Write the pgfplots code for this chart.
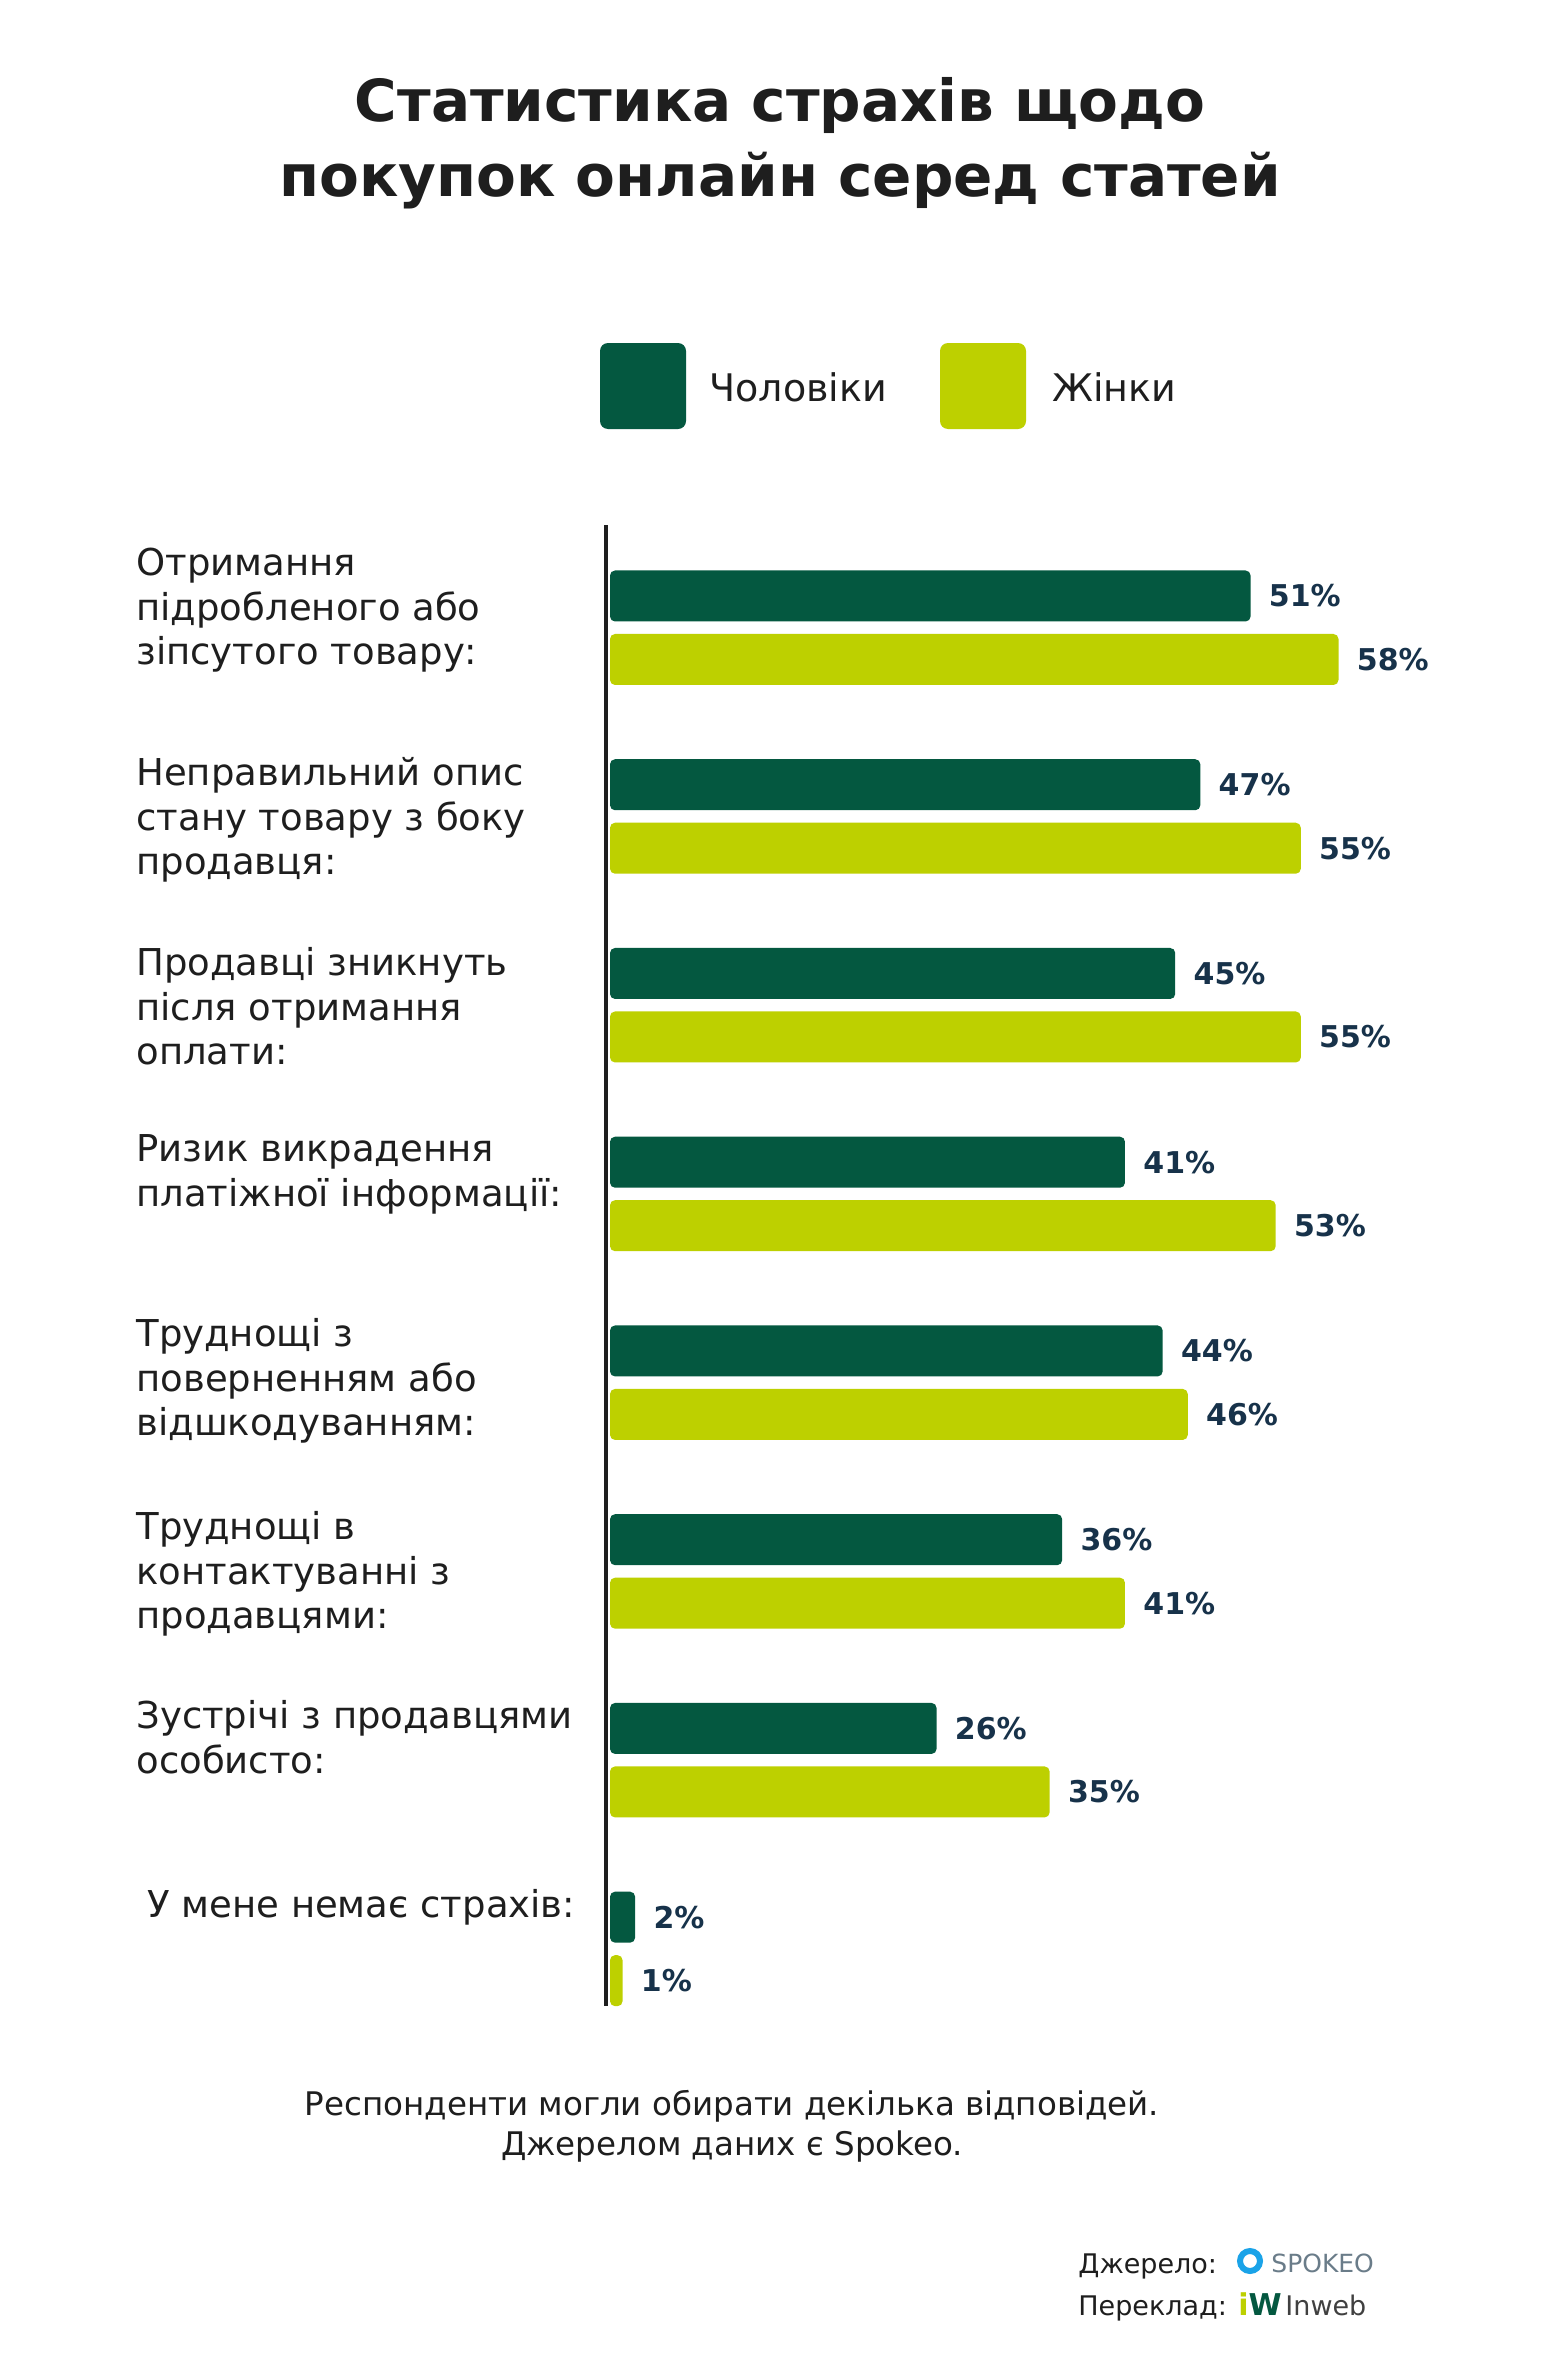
\documentclass[border=0pt]{standalone}
\usepackage{pgfplots}
\pgfplotsset{compat=1.18}
\usepackage{pgfplotstable}
\usepackage{fontspec}
\setmainfont{DejaVu Sans}
\definecolor{men}{HTML}{045840}
\definecolor{women}{HTML}{BDD000}
\definecolor{val}{HTML}{17324A}
\definecolor{txt}{HTML}{1E1E1E}
\definecolor{spokeo}{HTML}{1AA3E8}
\definecolor{spokeotxt}{HTML}{6A7C89}
\pgfplotstableread{
idx ym yw men women
0 0 0.3364 51 58
1 1 1.3364 47 55
2 2 2.3364 45 55
3 3 3.3364 41 53
4 4 4.3364 44 46
5 5 5.3364 36 41
6 6 6.3364 26 35
7 7 7.3364 2 1
}\datatable
\begin{document}
\begin{tikzpicture}[x=0.5pt,y=-0.5pt]
\useasboundingbox (0,0) rectangle (1560,2371);
\fill[white] (0,0) rectangle (1560,2371);
% title
\node[anchor=base, inner sep=0pt, text=txt, font=\fontsize{29}{35}\selectfont\bfseries] at (780,122) {Статистика страхів щодо};
\node[anchor=base, inner sep=0pt, text=txt, font=\fontsize{29}{35}\selectfont\bfseries] at (780,196) {покупок онлайн серед статей};
% legend
\fill[men, rounded corners=4pt] (600,343) rectangle (686,429);
\node[anchor=west, inner sep=0pt, text=txt, font=\fontsize{19}{23}\selectfont] at (709,387) {Чоловіки};
\fill[women, rounded corners=4pt] (940,343) rectangle (1026,429);
\node[anchor=west, inner sep=0pt, text=txt, font=\fontsize{19}{23}\selectfont] at (1052,387) {Жінки};
% chart
\begin{axis}[at={(305pt,-262.5pt)}, anchor=north west,
  x=6.28pt, y=94.37pt, y dir=reverse,
  xmin=0, xmax=60, ymin=-0.376, ymax=7.47,
  hide axis, clip=false,
  xbar, bar width=25.5pt,
  point meta=x,
  /pgf/number format/assume math mode=true,
  nodes near coords={\pgfmathprintnumber{\pgfplotspointmeta}\%},
  nodes near coords style={anchor=west, inner sep=0pt, xshift=9pt, font=\fontsize{15}{18}\selectfont\bfseries, text=val},
]
\addplot[fill=men, draw=none, bar shift=0pt, rounded corners=2.5pt] table[x=men, y=ym]{\datatable};
\addplot[fill=women, draw=none, bar shift=0pt, rounded corners=2.5pt] table[x=women, y=yw]{\datatable};
\draw[line width=2.4pt, color=txt] ([xshift=-2pt]axis cs:0,-0.376) -- ([xshift=-2pt]axis cs:0,7.47);
\end{axis}
% category labels
\begin{scope}[every node/.style={anchor=base west, inner sep=0pt, text=txt, font=\fontsize{18.5}{22}\selectfont}]
\node at (136,575) {Отримання};
\node at (136,620) {підробленого або};
\node at (136,664) {зіпсутого товару:};
\node at (136,785) {Неправильний опис};
\node at (136,830) {стану товару з боку};
\node at (136,874) {продавця:};
\node at (136,975) {Продавці зникнуть};
\node at (136,1020) {після отримання};
\node at (136,1064) {оплати:};
\node at (136,1161) {Ризик викрадення};
\node at (136,1206) {платіжної інформації:};
\node at (136,1346) {Труднощі з};
\node at (136,1391) {поверненням або};
\node at (136,1435) {відшкодуванням:};
\node at (136,1539) {Труднощі в};
\node at (136,1584) {контактуванні з};
\node at (136,1628) {продавцями:};
\node at (136,1728) {Зустрічі з продавцями};
\node at (136,1773) {особисто:};
\node at (147,1917) {У мене немає страхів:};
\end{scope}
% footer
\node[anchor=base, inner sep=0pt, text=txt, font=\fontsize{16.25}{19}\selectfont] at (732,2115) {Респонденти могли обирати декілька відповідей.};
\node[anchor=base, inner sep=0pt, text=txt, font=\fontsize{16.25}{19}\selectfont] at (732,2155) {Джерелом даних є Spokeo.};
% source
\node[anchor=base west, inner sep=0pt, text=txt, font=\fontsize{13.5}{16}\selectfont] at (1078,2273) {Джерело:};
\node[anchor=base west, inner sep=0pt, text=txt, font=\fontsize{13.5}{16}\selectfont] at (1078,2315) {Переклад:};
\draw[spokeo, line width=3pt] (1250,2261) circle[radius=10];
\node[anchor=base west, inner sep=0pt, text=spokeotxt, font=\fontsize{12.5}{15}\selectfont] at (1271,2272) {SPOKEO};
\node[anchor=base west, inner sep=0pt, font=\fontsize{15}{18}\selectfont\bfseries] at (1238,2315) {\textcolor{women}{i}\textcolor{men}{W}};
\node[anchor=base west, inner sep=0pt, text=txt!85, font=\fontsize{13.5}{16}\selectfont] at (1285,2315) {Inweb};
\end{tikzpicture}
\end{document}
